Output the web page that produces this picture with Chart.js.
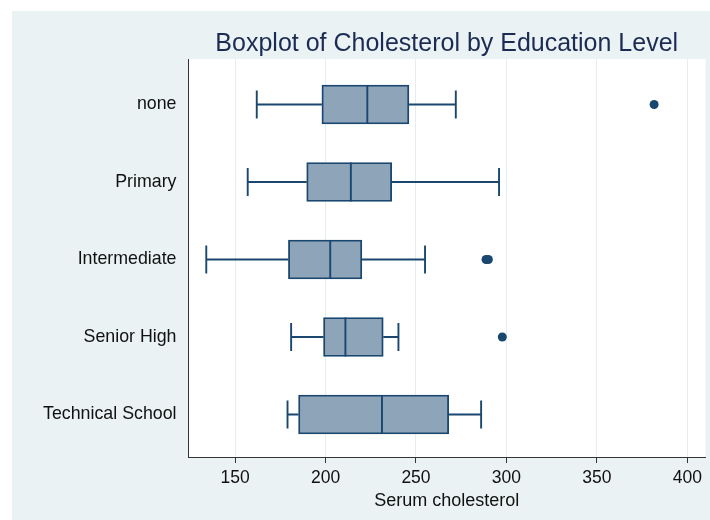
<!DOCTYPE html>
<html>
<head>
<meta charset="utf-8">
<script src="https://cdn.jsdelivr.net/npm/chart.js@4/dist/chart.umd.min.js"></script>
<style>
  html, body { margin: 0; padding: 0; background: #ffffff; }
  #wrap { width: 710px; height: 520px; }
</style>
</head>
<body>
<div id="wrap"><canvas id="c" width="710" height="520"></canvas></div>
<script>
// Education levels, top to bottom
const categories = ['none', 'Primary', 'Intermediate', 'Senior High', 'Technical School'];

// Five-number summaries of serum cholesterol per level
const whiskerLow  = [162.0, 157.0, 134.1, 181.0, 179.0];
const quartile1   = [198.0, 189.6, 179.5, 198.9, 185.1];
const medians     = [223.1, 214.0, 202.6, 211.0, 231.2];
const quartile3   = [246.1, 236.6, 220.1, 231.9, 268.1];
const whiskerHigh = [272.0, 295.9, 255.0, 240.3, 286.0];

// Outside values: category index and cholesterol
const outlierLevel = [0, 2, 2, 3];
const outlierValue = [381.6, 288.7, 290.0, 297.7];

const xTicks = [150, 200, 250, 300, 350, 400];

const NAVY = '#1a476f';
const BOX_FILL = '#8ea4b9';
const FONT = '"Liberation Sans", Arial, sans-serif';
const LINE_W = 1.9;

// Light outer panel behind everything
const panelPlugin = {
  id: 'panel',
  beforeDraw(chart) {
    const { ctx, chartArea: a } = chart;
    ctx.save();
    ctx.fillStyle = '#eaf2f3';
    ctx.fillRect(12, 11, chart.width - 12, chart.height - 11);
    ctx.fillStyle = '#ffffff';
    ctx.fillRect(a.left, a.top, a.right - a.left, a.bottom - a.top);
    ctx.restore();
  }
};

// Whiskers, caps and median lines, placed through the chart's scales
const whiskerPlugin = {
  id: 'whiskers',
  afterDatasetsDraw(chart) {
    const { ctx, scales: { x, y } } = chart;
    const capHalf = 14;
    const boxHalf = 19.5;
    ctx.save();
    ctx.strokeStyle = NAVY;
    ctx.lineWidth = LINE_W;
    categories.forEach((_, i) => {
      const py = y.getPixelForValue(i);
      const lo = x.getPixelForValue(whiskerLow[i]);
      const q1 = x.getPixelForValue(quartile1[i]);
      const q3 = x.getPixelForValue(quartile3[i]);
      const hi = x.getPixelForValue(whiskerHigh[i]);
      const md = x.getPixelForValue(medians[i]);
      ctx.beginPath();
      ctx.moveTo(lo, py); ctx.lineTo(q1, py);
      ctx.moveTo(q3, py); ctx.lineTo(hi, py);
      ctx.moveTo(lo, py - capHalf); ctx.lineTo(lo, py + capHalf);
      ctx.moveTo(hi, py - capHalf); ctx.lineTo(hi, py + capHalf);
      ctx.moveTo(md, py - boxHalf); ctx.lineTo(md, py + boxHalf);
      ctx.stroke();
    });
    ctx.restore();
  }
};

// Title centred over the plot region
const titlePlugin = {
  id: 'plotTitle',
  afterDraw(chart) {
    const { ctx, chartArea: a } = chart;
    ctx.save();
    ctx.fillStyle = '#1c2b54';
    ctx.font = '25px ' + FONT;
    ctx.textAlign = 'center';
    ctx.textBaseline = 'alphabetic';
    ctx.fillText('Boxplot of Cholesterol by Education Level', (a.left + a.right) / 2, 50.7);
    ctx.restore();
  }
};

new Chart(document.getElementById('c'), {
  data: {
    datasets: [
      {
        type: 'bar',
        indexAxis: 'y',
        data: categories.map((_, i) => ({ y: i, x: [quartile1[i], quartile3[i]] })),
        backgroundColor: BOX_FILL,
        borderColor: NAVY,
        borderWidth: LINE_W,
        borderSkipped: false,
        barThickness: 39
      },
      {
        type: 'scatter',
        data: outlierLevel.map((lv, k) => ({ x: outlierValue[k], y: lv })),
        backgroundColor: NAVY,
        borderColor: NAVY,
        borderWidth: 0,
        pointRadius: 4.5,
        pointHoverRadius: 4.5
      }
    ]
  },
  options: {
    responsive: false,
    animation: false,
    devicePixelRatio: 1,
    layout: { padding: { left: 0, top: 59, right: 3.5, bottom: 0 } },
    plugins: {
      legend: { display: false },
      title: { display: false },
      tooltip: { enabled: false }
    },
    scales: {
      x: {
        type: 'linear',
        position: 'bottom',
        min: 124,
        max: 410,
        offset: false,
        afterFit(s) { s.height = 63; },
        afterBuildTicks(s) { s.ticks = xTicks.map(v => ({ value: v })); },
        ticks: {
          color: '#111111',
          font: { family: FONT, size: 17.5 },
          padding: 5,
          maxRotation: 0
        },
        grid: {
          color: '#e4edf0',
          lineWidth: 1,
          offset: false,
          tickLength: 6,
          tickColor: '#333333'
        },
        border: { display: true, color: '#333333', width: 1 },
        title: {
          display: true,
          text: 'Serum cholesterol',
          color: '#111111',
          font: { family: FONT, size: 18, lineHeight: 1.2 },
          padding: { top: 0, bottom: 8 }
        }
      },
      y: {
        type: 'linear',
        position: 'left',
        reverse: true,
        offset: false,
        min: -0.587,
        max: 4.548,
        afterFit(s) { s.width = 188; },
        afterBuildTicks(s) { s.ticks = categories.map((_, i) => ({ value: i })); },
        ticks: {
          color: '#111111',
          font: { family: FONT, size: 17.8 },
          padding: 11.5,
          callback: (v) => categories[v]
        },
        grid: { display: false, drawTicks: false, offset: false },
        border: { display: true, color: '#333333', width: 1 }
      }
    }
  },
  plugins: [panelPlugin, whiskerPlugin, titlePlugin]
});
</script>
</body>
</html>
